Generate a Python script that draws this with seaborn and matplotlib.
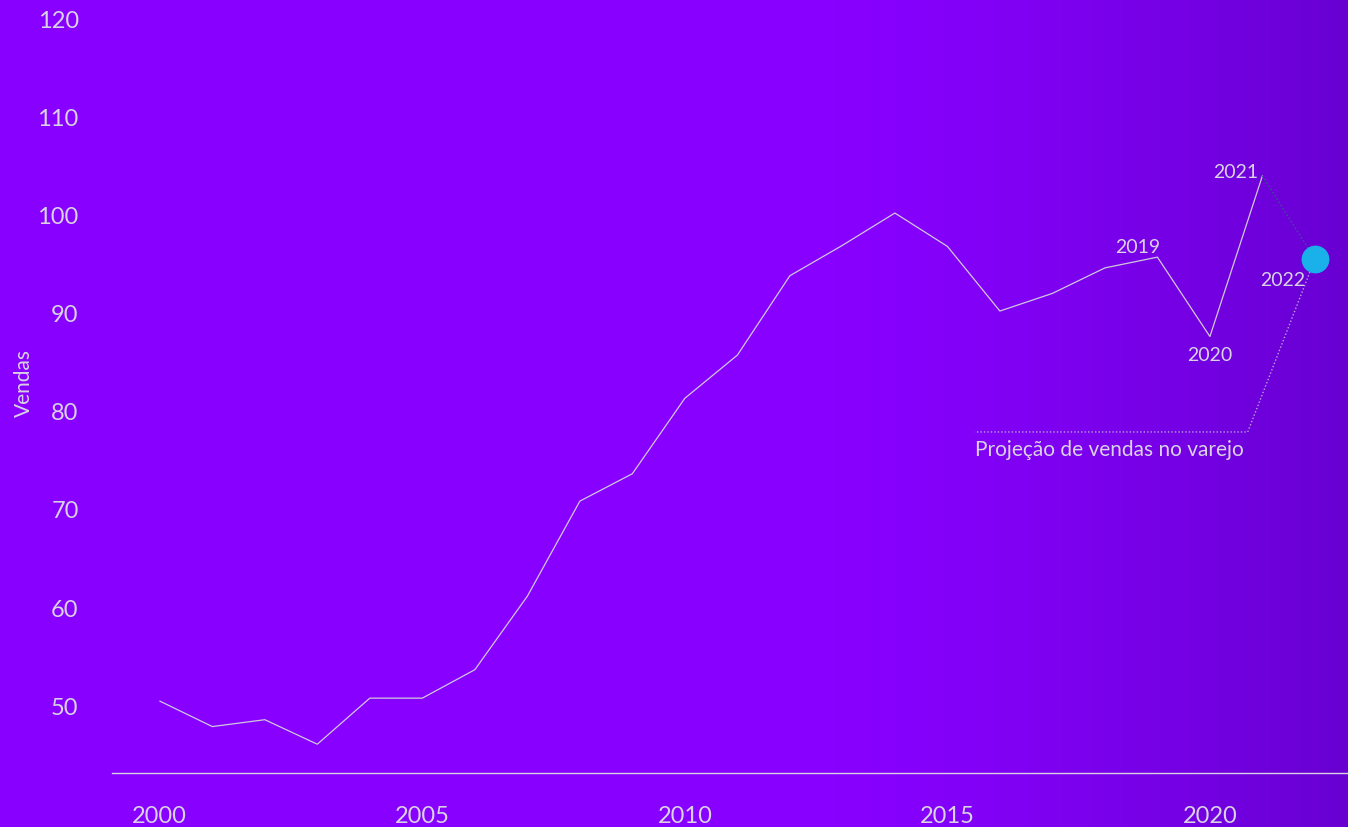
import numpy as np
import pandas as pd
import matplotlib
matplotlib.use('Agg')
import matplotlib.pyplot as plt
import seaborn as sns

# Dados de vendas
anos = list(range(2000, 2022))
vendas = [50.4, 47.8, 48.5, 46.0, 50.7, 50.7, 53.6, 61.1, 70.8, 73.6, 81.3,
          85.7, 93.8, 96.9, 100.2, 96.8, 90.2, 92.0, 94.6, 95.7, 87.6, 104.0]
ano_proj = [2021, 2022]
vendas_proj = [104.0, 95.5]
anos_marcados = [2019, 2020, 2021, 2022]
y_ticks = [50, 60, 70, 80, 90, 100, 110, 120]
x_ticks = [2000, 2005, 2010, 2015, 2020]

sns.set_style('white')
plt.rcParams['font.family'] = ['Lato', 'DejaVu Sans']
txt = '#d8d2e4'

df = pd.DataFrame({'Ano': anos, 'Vendas': vendas})
df_proj = pd.DataFrame({'Ano': ano_proj, 'Vendas': vendas_proj})

fig = plt.figure(figsize=(13.48, 8.28), dpi=100)

# fundo em degradê roxo
bg = fig.add_axes([0, 0, 1, 1], zorder=0)
t = np.linspace(0, 1, 400)
ramp = np.clip((t - 0.62) / 0.38, 0, 1) ** 1.3
c0 = np.array([0x88, 0x00, 0xFF]) / 255
c1 = np.array([0x68, 0x00, 0xD2]) / 255
grad = c0[None, :] * (1 - ramp[:, None]) + c1[None, :] * ramp[:, None]
bg.imshow(grad[None, :, :], aspect='auto', extent=[0, 1, 0, 1])
bg.axis('off')

ax = fig.add_axes([0.0831, 0.0652, 0.9169, 0.9348], zorder=1)
ax.patch.set_alpha(0)

sns.lineplot(data=df, x='Ano', y='Vendas', ax=ax, color='#d0c8dc', linewidth=0.9)
sns.lineplot(data=df_proj, x='Ano', y='Vendas', ax=ax, color='#2e5a80',
             linewidth=1.1, linestyle=(0, (1, 1.5)))
ax.plot(ano_proj[-1], vendas_proj[-1], 'o', color='#1ab0ea', markersize=19, zorder=5)

ax.set_xlim(1999.09, 2022.63)
ax.set_ylim(43.06, 122.04)
ax.set_xticks(x_ticks)
ax.set_yticks(y_ticks)
ax.tick_params(axis='x', length=0, pad=23, labelsize=17, labelcolor=txt)
ax.tick_params(axis='y', length=0, pad=24, labelsize=17, labelcolor=txt)
for s in ['top', 'right', 'left']:
    ax.spines[s].set_visible(False)
ax.spines['bottom'].set_color('#d8d2e4')
ax.spines['bottom'].set_linewidth(1.0)

ax.set_xlabel('')
ax.set_ylabel('Vendas', fontsize=15, color=txt)
ax.yaxis.set_label_coords(-0.0632, 0.505)

# rótulos dos anos destacados
vals = dict(zip(anos + [2022], vendas + [vendas_proj[-1]]))
offsets = {2019: (-14, 8, 'center', 'center'),
           2020: (0, -13, 'center', 'center'),
           2021: (-3, 3, 'right', 'center'),
           2022: (-7, -15, 'right', 'center')}
for a in anos_marcados:
    dx, dy, ha, va = offsets[a]
    ax.annotate(str(a), (a, vals[a]), xytext=(dx, dy), textcoords='offset points',
                ha=ha, va=va, fontsize=14, color=txt)

# chamada da projeção
ax.plot([2022, 2020.72, 2015.52], [vendas_proj[-1], 77.86, 77.86],
        color='#b8a2dc', linewidth=1.0, linestyle=(0, (1, 1.5)), zorder=2)
ax.text(2015.52, 76.1, 'Projeção de vendas no varejo', fontsize=15, color=txt,
        ha='left', va='center')

fig.savefig('out.png', dpi=100)
